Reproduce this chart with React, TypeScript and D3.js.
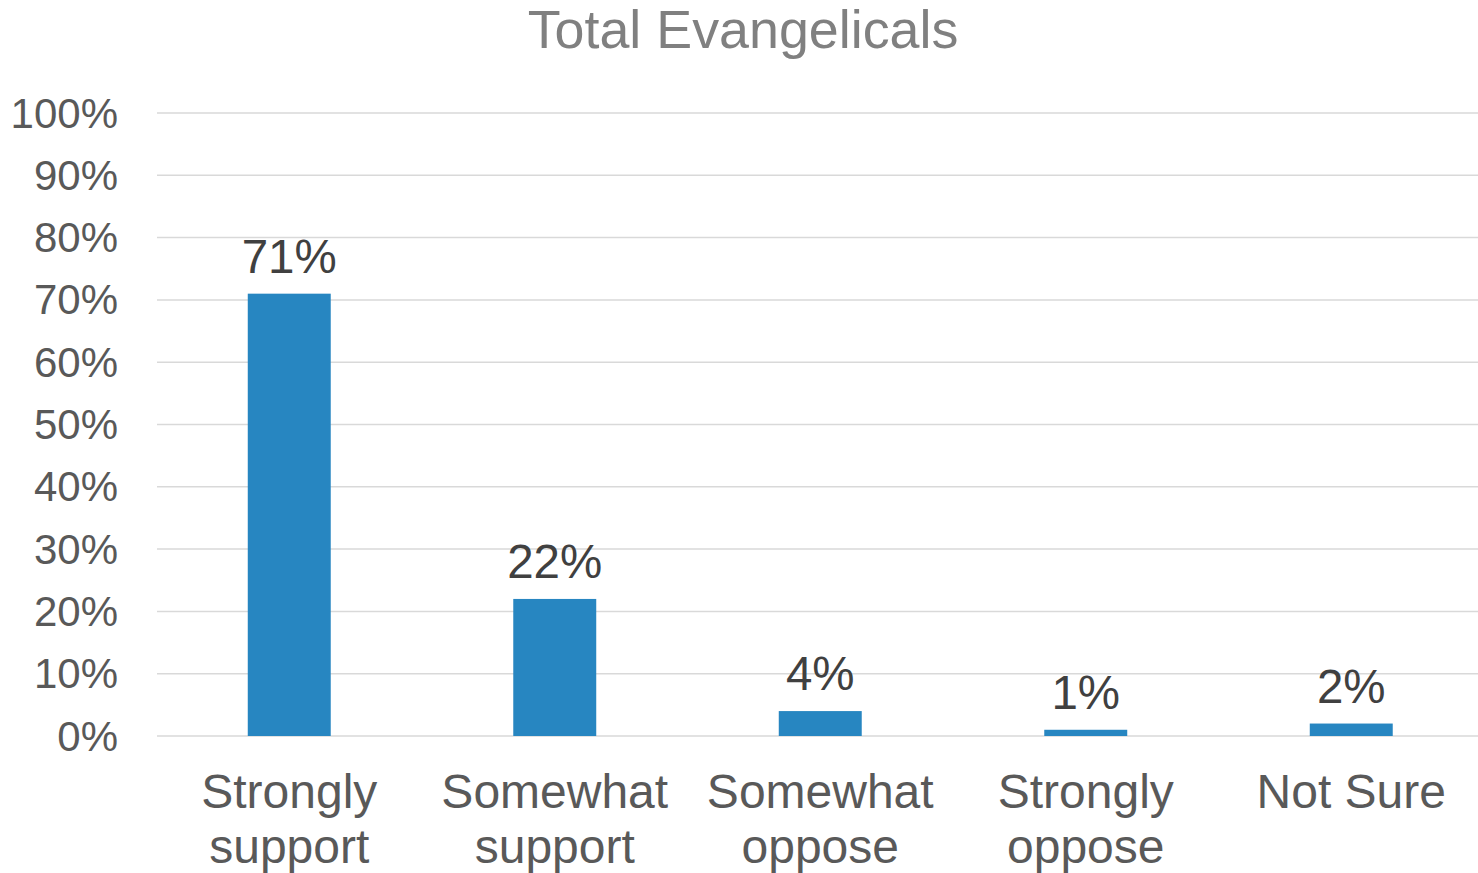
import React from "react";
import * as d3 from "d3";

const title = "Total Evangelicals";
const categories = ["Strongly support", "Somewhat support", "Somewhat oppose", "Strongly oppose", "Not Sure"];
const categoryLines = [["Strongly", "support"], ["Somewhat", "support"], ["Somewhat", "oppose"], ["Strongly", "oppose"], ["Not Sure"]];
const values = [71, 22, 4, 1, 2];
const yTicks = [0, 10, 20, 30, 40, 50, 60, 70, 80, 90, 100];

const W = 1478;
const H = 873;
const FONT = "'Liberation Sans', Arial, Helvetica, sans-serif";

export default function App() {
  const x = d3.scaleBand<string>().domain(categories).range([156.5, 1484]).padding(0);
  const y = d3.scaleLinear().domain([0, 100]).range([736, 113]);
  const barW = x.bandwidth() * 0.3125;

  return (
    <svg width={W} height={H} style={{ position: "absolute", left: 0, top: 0, background: "#fff" }}>
      <text x={743} y={48} textAnchor="middle" fontFamily={FONT} fontSize={53.8} fill="#808080">
        {title}
      </text>
      {yTicks.map((t) => (
        <g key={t}>
          <line x1={157} x2={W} y1={y(t)} y2={y(t)} stroke="#d9d9d9" strokeWidth={1.5} />
          <text x={118} y={y(t) + 14.5} textAnchor="end" fontFamily={FONT} fontSize={42} fill="#595959">
            {t}%
          </text>
        </g>
      ))}
      {categories.map((c, i) => {
        const cx = (x(c) as number) + x.bandwidth() / 2;
        return (
          <g key={c}>
            <rect x={cx - barW / 2} y={y(values[i])} width={barW} height={y(0) - y(values[i])} fill="#2786c1" />
            <text x={cx} y={y(values[i]) - 21} textAnchor="middle" fontFamily={FONT} fontSize={47.5} fill="#404040">
              {values[i]}%
            </text>
            {categoryLines[i].map((ln, j) => (
              <text key={j} x={cx} y={808 + j * 55} textAnchor="middle" fontFamily={FONT} fontSize={48} fill="#595959">
                {ln}
              </text>
            ))}
          </g>
        );
      })}
    </svg>
  );
}
